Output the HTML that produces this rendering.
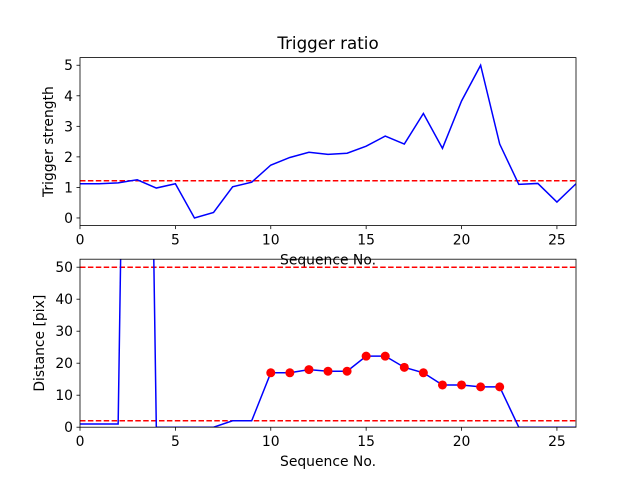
<!DOCTYPE html>
<html><head><meta charset="utf-8"><style>
body{margin:0;background:#fff}
svg{font-family:"DejaVu Sans","Liberation Sans",sans-serif}
</style></head><body>
<svg id="c" width="640" height="480" viewBox="0 0 640 480"></svg>
<script>
const xs = [0,1,2,3,4,5,6,7,8,9,10,11,12,13,14,15,16,17,18,19,20,21,22,23,24,25,26];
const strength = [1.12,1.12,1.15,1.25,0.98,1.12,0.0,0.18,1.02,1.17,1.73,1.98,2.15,2.08,2.12,2.35,2.68,2.42,3.42,2.28,3.83,5.0,2.42,1.1,1.13,0.52,1.12];
const strengthThreshold = [1.22];
const distance = [1,1,1,400,0,0,0,0,2,2,17,17,18,17.5,17.5,22.2,22.2,18.7,17,13.2,13.2,12.6,12.6,0,0,0,0];
const markerIdx = [10,11,12,13,14,15,16,17,18,19,20,21,22];
const distThresholds = [50,2];
const xTicks = [0,5,10,15,20,25];
const topYTicks = [0,1,2,3,4,5];
const botYTicks = [0,10,20,30,40,50];

const NS="http://www.w3.org/2000/svg", svg=document.getElementById('c');
function mk(t,a,p){const e=document.createElementNS(NS,t);for(const k in a)e.setAttribute(k,a[k]);(p||svg).appendChild(e);return e;}
const L=80,R=576,FS=13.9;
function panel(top,bot,y0,y1,name){
  const sx=v=>L+(v-0)/(26-0)*(R-L), sy=v=>bot-(v-y0)/(y1-y0)*(bot-top);
  const g=mk('g',{});
  const cid='clip'+name;const cp=mk('clipPath',{id:cid},g);mk('rect',{x:L,y:top,width:R-L,height:bot-top},cp);
  const plot=mk('g',{'clip-path':'url(#'+cid+')'},g);
  return {sx,sy,g,plot,top,bot};
}
function axes(p,yt,ylab,xlab){
  for(const t of xTicks){const x=p.sx(t);mk('line',{x1:x,x2:x,y1:p.bot,y2:p.bot+3.5,stroke:'#000','stroke-width':0.8},p.g);
    const tx=mk('text',{x:x,y:p.bot+19,'text-anchor':'middle','font-size':FS},p.g);tx.textContent=t;}
  for(const t of yt){const y=p.sy(t);mk('line',{x1:L-3.5,x2:L,y1:y,y2:y,stroke:'#000','stroke-width':0.8},p.g);
    const tx=mk('text',{x:L-7,y:y+5,'text-anchor':'end','font-size':FS},p.g);tx.textContent=t;}
  mk('rect',{x:L,y:p.top,width:R-L,height:p.bot-p.top,fill:'none',stroke:'#000','stroke-width':0.8},p.g);
  const yl=mk('text',{x:0,y:0,'font-size':FS,'text-anchor':'middle',transform:`translate(${ylab[1]},${(p.top+p.bot)/2}) rotate(-90)`},p.g);yl.textContent=ylab[0];
  
  const xl=mk('text',{x:(L+R)/2,y:p.bot+39,'font-size':FS,'text-anchor':'middle'},p.g);xl.textContent=xlab;
  
}
const p1=panel(57.6,225.6,-0.25,5.25,'top-panel');
for(const t of strengthThreshold){const l=mk('line',{x1:L,x2:R,y1:p1.sy(t),y2:p1.sy(t),stroke:'#ff0000','stroke-width':1.5,'stroke-dasharray':'5.5,2.4'},p1.plot);
  }
const l1=mk('polyline',{points:xs.map((x,i)=>p1.sx(x)+','+p1.sy(strength[i])).join(' '),fill:'none',stroke:'#0000ff','stroke-width':1.5},p1.plot);

axes(p1,topYTicks,['Trigger strength',53],'Sequence No.');
const ti=mk('text',{x:(L+R)/2,y:49,'font-size':16.7,'text-anchor':'middle'});ti.textContent='Trigger ratio';

const p2=panel(259.2,427.2,0,52.5,'bottom-panel');
for(const t of distThresholds){const l=mk('line',{x1:L,x2:R,y1:p2.sy(t),y2:p2.sy(t),stroke:'#ff0000','stroke-width':1.5,'stroke-dasharray':'5.5,2.4'},p2.plot);
  }
const l2=mk('polyline',{points:xs.map((x,i)=>p2.sx(x)+','+p2.sy(distance[i])).join(' '),fill:'none',stroke:'#0000ff','stroke-width':1.5},p2.plot);

for(const i of markerIdx){const c=mk('circle',{cx:p2.sx(xs[i]),cy:p2.sy(distance[i]),r:4.5,fill:'#ff0000'},p2.plot);
  }
axes(p2,botYTicks,['Distance [pix]',44],'Sequence No.');
</script>
</body></html>
